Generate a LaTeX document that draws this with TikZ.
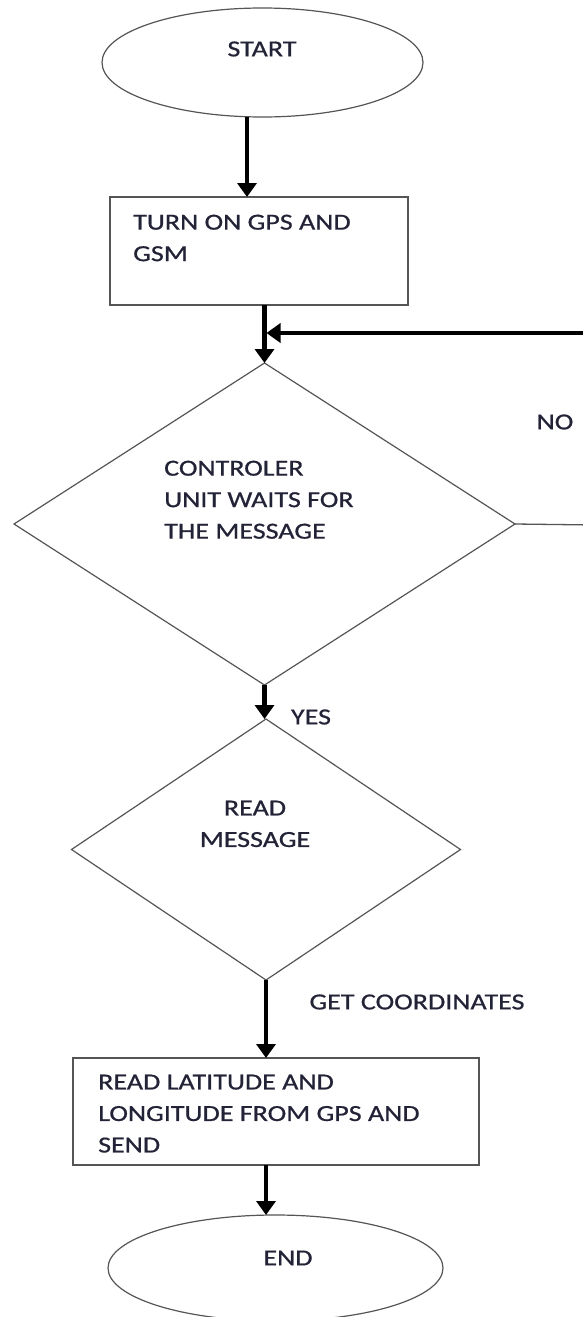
\documentclass[tikz,border=0pt]{standalone}
\usepackage{fontspec}
\newfontfamily\lblfont{Carlito}[FakeStretch=1.22,FakeBold=0.7]
\usetikzlibrary{shapes.geometric,arrows.meta}
\definecolor{txt}{RGB}{35,35,55}
\definecolor{outl}{RGB}{85,85,85}
\tikzset{
  x=1pt, y=-1pt,
  shapebox/.style={draw=outl, line width=1.2pt, inner sep=0pt, outer sep=0pt},
  lbl/.style={font=\lblfont\fontsize{23}{31.5}\selectfont, text=txt, inner sep=0pt},
  arr/.style={line width=4.5pt, black, -{Triangle[length=14pt,width=19pt]}},
  thinline/.style={line width=1.3pt, outl},
}
\begin{document}
\begin{tikzpicture}
\useasboundingbox (0,0) rectangle (583,1317);
\clip (0,0) rectangle (583,1317);
\fill[white] (0,0) rectangle (583,1317);

% shapes
\node[shapebox, ellipse, minimum width=321pt, minimum height=109pt] (start) at (262.5,62.5) {};
\node[shapebox, rectangle, minimum width=298pt, minimum height=108pt] (box1) at (259,251) {};
\node[shapebox, diamond, minimum width=501pt, minimum height=322pt] (d1) at (264.5,524) {};
\node[shapebox, diamond, minimum width=389pt, minimum height=261pt] (d2) at (266,849.5) {};
\node[shapebox, rectangle, minimum width=406pt, minimum height=107pt] (box2) at (276,1111.5) {};
\node[shapebox, ellipse, minimum width=335pt, minimum height=106pt] (end) at (275.5,1268) {};

% texts
\node[lbl] (tstart) at (262,49) {START};
\node[lbl, anchor=north west, align=left] (tbox1) at (133,214.5) {TURN ON GPS AND\\GSM};
\node[lbl, anchor=north west, align=left] (td1) at (164,460.5) {CONTROLER\\UNIT WAITS FOR\\THE MESSAGE};
\node[lbl] (tno) at (555,422) {NO};
\node[lbl] (tyes) at (311,717) {YES};
\node[lbl, anchor=north, align=center] (td2) at (255,800.5) {READ\\MESSAGE};
\node[lbl] (tget) at (417,1002) {GET COORDINATES};
\node[lbl, anchor=north west, align=left] (tbox2) at (98,1074.5) {READ LATITUDE AND\\LONGITUDE FROM GPS AND\\SEND};
\node[lbl] (tend) at (288,1258) {END};

% connectors
\coordinate (loopE) at (595,525);
\coordinate (loopT) at (595,333);
\coordinate (loopTip) at (266.5,333);
\draw[arr] ([xshift=-15.5pt]start.south) -- ([xshift=-12pt]box1.north);
\draw[arr] (d1.north |- box1.south) -- (d1.north);
\draw[thinline] (d1.east) -- (loopE);
\draw[arr] (loopT) -- (loopTip);
\draw[arr] (d1.south) -- (d1.south |- d2.north);
\draw[arr] (d2.south) -- (d2.south |- box2.north);
\draw[arr] (d2.south |- box2.south) -- (d2.south |- end.north);
\end{tikzpicture}
\end{document}
